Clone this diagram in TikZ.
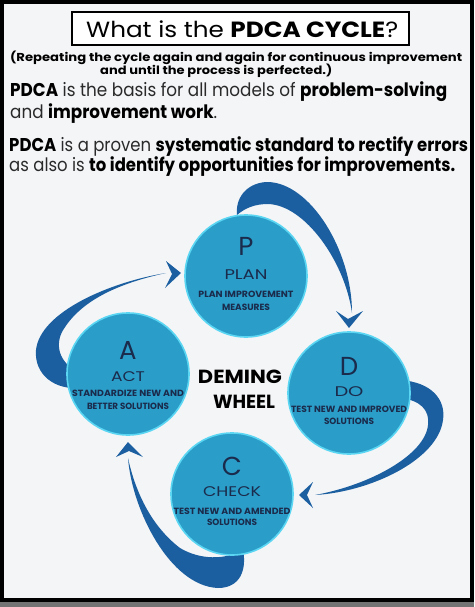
\documentclass[tikz,border=0pt]{standalone}
\usepackage{fontspec}
\usepackage{graphicx}
\setmainfont{Poppins}
\definecolor{bgc}{HTML}{F4F5F7}
\definecolor{circfill}{HTML}{2A9DC9}
\definecolor{circring}{HTML}{5AD6F2}
\definecolor{swoosh}{HTML}{1B5FA0}
\definecolor{ctext}{HTML}{1B2B4B}
\definecolor{rtext}{HTML}{2A2A2A}
\newcommand\fitw[2]{\resizebox{#1}{\height}{#2}}
\tikzset{
  phase/.style={circle, fill=circfill, draw=circring, line width=1.6pt, minimum size=122pt, inner sep=0pt},
  bigletter/.style={text=ctext, font=\fontsize{26}{26}\selectfont, inner sep=0pt},
  phasename/.style={text=ctext, font=\fontsize{14}{14}\selectfont, inner sep=0pt},
  phasedesc/.style={text=ctext, font=\bfseries\fontsize{9}{9}\selectfont, inner sep=0pt},
  txtline/.style={anchor=base west, inner sep=0pt, text=rtext},
  swooshfill/.style={fill=swoosh},
}
\begin{document}
\begin{tikzpicture}[x=1pt,y=-1pt]
\useasboundingbox (0,0) rectangle (474,607);
\fill[bgc] (0,0) rectangle (474,607);
\fill[black!55] (0,601) rectangle (474,607);
\draw[line width=4pt] (2,2) rectangle (472,600);

% title
\draw[line width=2.5pt, fill=white] (72,12) rectangle (409,45);
\node[txtline, text=black] (title) at (86,38) {\fitw{312pt}{\fontsize{22}{22}\selectfont What is the \textbf{PDCA CYCLE}?}};

\node[txtline, text=black] (sub1) at (10,62) {\fitw{452pt}{\bfseries\fontsize{11.5}{11.5}\selectfont (Repeating the cycle again and again for continuous improvement}};
\node[txtline, text=black] (sub2) at (100,75) {\fitw{232pt}{\bfseries\fontsize{11.5}{11.5}\selectfont and until the process is perfected.)}};

\node[txtline] (l1) at (10,97) {\fitw{437pt}{\fontsize{18.5}{18.5}\selectfont \textcolor{black}{\textbf{PDCA}} is the basis for all models of \textcolor{black}{\textbf{problem-solving}}}};
\node[txtline] (l2) at (10,118) {\fitw{207pt}{\fontsize{18.5}{18.5}\selectfont and \textcolor{black}{\textbf{improvement work}}.}};
\node[txtline] (l3) at (9,151) {\fitw{459pt}{\fontsize{18.5}{18.5}\selectfont \textcolor{black}{\textbf{PDCA}} is a proven \textcolor{black}{\textbf{systematic standard to rectify errors}}}};
\node[txtline] (l4) at (9,171) {\fitw{446pt}{\fontsize{18.5}{18.5}\selectfont as also is \textcolor{black}{\textbf{to identify opportunities for improvements.}}}};

% swooshes (drawn before circles)
% P -> D
\fill[swooshfill] (237,215) .. controls (235,195) and (250,182) .. (268,182)
  .. controls (310,183) and (352,250) .. (352,313)
  .. controls (345,262) and (305,205) .. (268,204)
  .. controls (255,204) and (245,208) .. (237,215) -- cycle;
\fill[swooshfill] (336,311) -- (348,319) -- (363,311) -- (349,328) -- cycle;
% D -> C
\fill[swooshfill] (400,380) .. controls (432,382) and (446,400) .. (443,420)
  .. controls (438,460) and (370,492) .. (315,495)
  .. controls (370,485) and (425,455) .. (428,425)
  .. controls (430,410) and (420,400) .. (400,398) -- cycle;
\fill[swooshfill] (313,482) -- (307,495) -- (313,508) -- (299,495) -- cycle;
% C -> A
\fill[swooshfill] (128,458) .. controls (132,510) and (170,586) .. (218,588)
  .. controls (240,588) and (247,570) .. (243,550)
  .. controls (225,560) and (200,560) .. (180,548)
  .. controls (150,525) and (135,490) .. (128,458) -- cycle;
\fill[swooshfill] (116,457) -- (129,451) -- (143,457) -- (128,442) -- cycle;
% A -> P
\fill[swooshfill] (166,273) .. controls (110,282) and (40,312) .. (36,350)
  .. controls (34,375) and (55,390) .. (80,388)
  -- (80,372) .. controls (62,366) and (54,348) .. (62,332)
  .. controls (80,300) and (120,283) .. (166,273) -- cycle;
\fill[swooshfill] (166,261) -- (172,274) -- (165,288) -- (181,273) -- cycle;

% circles
\node[phase] (P) at (246,276) {};
\node[phase] (D) at (349,393) {};
\node[phase] (C) at (232,494) {};
\node[phase] (A) at (128,374) {};

% P text
\node[bigletter] (Pl) at ([yshift=30pt]P.center) {P};
\node[phasename] (Pn) at ([yshift=1pt]P.center) {\fitw{43pt}{PLAN}};
\node[phasedesc] (Pd1) at ([yshift=-18pt]P.center) {\fitw{95pt}{PLAN IMPROVEMENT}};
\node[phasedesc] (Pd2) at ([yshift=-31pt]P.center) {\fitw{48pt}{MEASURES}};
% D text
\node[bigletter] (Dl) at ([yshift=27pt]D.center) {D};
\node[phasename] (Dn) at ([yshift=1pt]D.center) {\fitw{29pt}{DO}};
\node[phasedesc] (Dd1) at ([yshift=-16pt]D.center) {\fitw{116pt}{TEST NEW AND IMPROVED}};
\node[phasedesc] (Dd2) at ([yshift=-28pt]D.center) {\fitw{50pt}{SOLUTIONS}};
% C text
\node[bigletter] (Cl) at ([yshift=28pt]C.center) {C};
\node[phasename] (Cn) at ([yshift=2pt]C.center) {\fitw{58pt}{CHECK}};
\node[phasedesc] (Cd1) at ([yshift=-17pt]C.center) {\fitw{117pt}{TEST NEW AND AMENDED}};
\node[phasedesc] (Cd2) at ([yshift=-28pt]C.center) {\fitw{50pt}{SOLUTIONS}};
% A text
\node[bigletter] (Al) at ([yshift=24pt]A.center) {A};
\node[phasename] (An) at ([yshift=-3pt]A.center) {\fitw{34pt}{ACT}};
\node[phasedesc] (Ad1) at ([yshift=-19pt]A.center) {\fitw{112pt}{STANDARDIZE NEW AND}};
\node[phasedesc] (Ad2) at ([yshift=-32pt]A.center) {\fitw{82pt}{BETTER SOLUTIONS}};

% centre label
\node[inner sep=0pt, font=\bfseries\fontsize{19}{19}\selectfont] (dem) at (240,377) {\fitw{84pt}{DEMING}};
\node[inner sep=0pt, font=\bfseries\fontsize{19}{19}\selectfont] (whl) at (244,402) {\fitw{62pt}{WHEEL}};
\end{tikzpicture}
\end{document}
